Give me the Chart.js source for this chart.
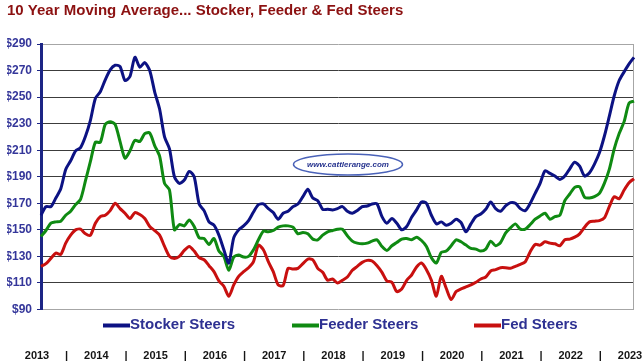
<!DOCTYPE html>
<html>
<head>
<meta charset="utf-8">
<script src="https://cdn.jsdelivr.net/npm/chart.js@4.4.0/dist/chart.umd.min.js"></script>
<style>
  html, body { margin: 0; padding: 0; background: #fff; }
  #chart { display: block; }
</style>
</head>
<body>
<canvas id="chart" width="643" height="364"></canvas>
<script>
// monthly points, Sep 2013 .. Sep 2023
const months = [];
for (let i = 0; i <= 120; i++) {
  const d = new Date(2013, 8 + i, 1);
  months.push(d.getFullYear() + "-" + String(d.getMonth() + 1).padStart(2, "0"));
}

const yearTicks = ["2013", "|", "2014", "|", "2015", "|", "2016", "|", "2017", "|", "2018",
  "|", "2019", "|", "2020", "|", "2021", "|", "2022", "|", "2023"];

const stocker = [161, 167.5, 167.5, 174, 181, 195.5, 202, 209.5, 212, 220.5,
  232.5, 249, 254, 263, 270.5, 274, 273, 262.5, 265.5, 280,
  272.5, 276, 270, 254, 241, 220, 211, 190, 185, 187.5,
  194, 190, 169.5, 164.5, 156, 153.5, 146, 135, 125, 144,
  150, 153, 157, 163.5, 169, 169.5, 166, 163, 158, 162.5,
  164, 167.5, 169.5, 175, 180.5, 174, 172, 165.5, 165.5, 165,
  166, 167.5, 164, 162.5, 164.5, 167.5, 168, 169.5, 169.5, 160,
  155, 158.5, 155, 150, 152.5, 159.5, 165, 171, 170, 161,
  154.5, 156, 153.5, 155, 158, 155.5, 148.5, 154.5, 160, 162,
  165.5, 171, 166, 164, 168, 170.5, 170, 166, 164.5, 170,
  177.5, 185, 194.5, 192.5, 190.5, 188, 190.5, 196, 201, 198,
  190.5, 193, 199.5, 208, 220.5, 235.5, 251, 262.5, 269, 275, 280];

const feeder = [145, 149.5, 155, 156, 156.5, 161, 164, 169, 173, 187,
  201.5, 216, 216, 229.5, 231.5, 229.5, 216.5, 204, 209.5, 217.5,
  216.5, 222.5, 223, 213.5, 205.5, 185, 180, 150, 154, 153,
  157.5, 152.5, 144, 143.5, 139, 143.5, 134, 130, 119.5, 129.5,
  131, 129.5, 130, 135, 142.5, 149, 148.5, 149.5, 152, 153,
  153, 152, 147, 148, 147, 143, 142.5, 146, 148.5, 149.5,
  150.5, 150.5, 145.5, 141.5, 140, 139.5, 140, 141.5, 142.5, 137.5,
  134.5, 138, 140.5, 143, 143.5, 142.5, 144.5, 142, 137.5, 129,
  125, 133, 134, 138, 142.5, 141, 138.5, 136, 135.5, 134,
  135.5, 141.5, 138, 140.5, 147.5, 151.5, 154.5, 150.5, 150.5, 154,
  158, 160.5, 162.5, 158, 160, 161, 172, 177, 182, 182.5,
  174.5, 174, 175, 177.5, 185, 195.5, 211, 222.5, 231.5, 245.5, 247];

const fed = [122.5, 124.5, 128.5, 132.5, 131.5, 140, 146, 150, 150.5, 147,
  146, 155, 160, 161, 164.5, 170, 166, 162.5, 158.5, 163,
  161.5, 158.5, 152.5, 149.5, 146, 137.5, 130, 128.5, 130, 134.5,
  137.5, 134, 129, 127.5, 123, 118.5, 111.5, 107.5, 100, 108.5,
  115, 118.5, 121.5, 126, 138.5, 135, 126, 118.5, 108.5, 108,
  121, 120.5, 121, 124.5, 128, 127.5, 121, 118, 112, 113,
  110, 112, 114.5, 119.5, 122.5, 125.5, 127, 126.5, 123, 118,
  111.5, 110.5, 103.5, 105.5, 112, 116, 122, 125, 120, 112,
  100, 115, 106, 97.5, 103.5, 105.5, 107, 108.5, 110.5, 113,
  114.5, 119, 120, 121.5, 121.5, 121, 122.5, 124, 126, 133.5,
  139, 138.5, 141, 140, 139.5, 138, 142.5, 143, 144.5, 147,
  152, 156, 156.5, 157, 159, 167.5, 175, 173.5, 180, 185.5, 188.5];

const FONT = "'Liberation Sans', Arial, sans-serif";
Chart.defaults.font.family = FONT;

// plot frame (right edge) + cattlerange watermark
const frame = {
  id: "frame",
  beforeDatasetsDraw(chart) {
    const { ctx, chartArea: a } = chart;
    ctx.save();
    ctx.strokeStyle = "#a6a6a6";
    ctx.lineWidth = 1;
    ctx.beginPath();
    ctx.moveTo(Math.round(a.right) - 0.5, a.top);
    ctx.lineTo(Math.round(a.right) - 0.5, a.bottom);
    ctx.stroke();

    // watermark
    ctx.beginPath();
    ctx.ellipse(348, 164.5, 54.5, 10.5, 0, 0, Math.PI * 2);
    ctx.fillStyle = "#fff";
    ctx.fill();
    ctx.strokeStyle = "#4a62b8";
    ctx.lineWidth = 1.5;
    ctx.stroke();
    ctx.fillStyle = "#27348f";
    ctx.font = "italic bold 8px " + FONT;
    ctx.textAlign = "center";
    ctx.textBaseline = "middle";
    ctx.fillText("www.cattlerange.com", 348, 165);
    ctx.restore();
  }
};

const legendRow = {
  id: "legendRow",
  afterDraw(chart, args, opts) {
    const { ctx } = chart;
    ctx.save();
    ctx.font = "bold 15px " + FONT;
    ctx.textBaseline = "middle";
    chart.data.datasets.forEach((ds, i) => {
      const x = opts.x[i];
      ctx.strokeStyle = ds.borderColor;
      ctx.lineWidth = 4;
      ctx.beginPath();
      ctx.moveTo(x, opts.y + 1);
      ctx.lineTo(x + opts.sample, opts.y + 1);
      ctx.stroke();
      ctx.fillStyle = opts.color;
      ctx.fillText(ds.label, x + opts.sample, opts.y);
    });
    ctx.restore();
  }
};

const line = (label, data, color) => ({
  label,
  data,
  borderColor: color,
  borderWidth: 3,
  pointRadius: 0,
  tension: 0.25,
  borderJoinStyle: "round",
  fill: false
});

new Chart(document.getElementById("chart"), {
  type: "line",
  data: {
    labels: months,
    datasets: [
      line("Stocker Steers", stocker, "#0c1283"),
      line("Feeder Steers", feeder, "#0f8a12"),
      line("Fed Steers", fed, "#c8100f")
    ]
  },
  options: {
    responsive: false,
    animation: false,
    layout: { padding: { left: 7, right: 9, top: 0, bottom: 0 } },
    plugins: {
      legend: { display: false },
      tooltip: { enabled: false },
      title: {
        display: true,
        text: "10 Year Moving Average... Stocker, Feeder & Fed Steers",
        align: "start",
        color: "#8c1111",
        font: { size: 15, weight: "bold" },
        padding: { top: 2, bottom: 24 }
      },
      legendRow: { x: [103, 292, 474], y: 324.5, sample: 27, color: "#2e3192" }
    },
    scales: {
      x: {
        type: "category",
        ticks: {
          autoSkip: false,
          maxRotation: 0,
          padding: 40,
          labelOffset: -4,
          color: "#151515",
          font: { size: 11, weight: "bold" },
          callback: (v, i) => (i % 6 === 0 ? yearTicks[i / 6] : "")
        },
        grid: { display: false, drawTicks: false },
        border: { display: false },
        afterFit: (s) => {
          s.height = 54.5;
          s.paddingLeft = 0;
          s.paddingRight = 0;
        }
      },
      y: {
        min: 90,
        max: 290,
        ticks: {
          stepSize: 20,
          padding: 5,
          color: "#34369a",
          font: { size: 12, weight: "bold" },
          callback: (v) => "$" + v
        },
        grid: {
          color: (c) => (c.tick.value === 290 || c.tick.value === 90 ? "#a6a6a6" : "#3c3c3c"),
          tickColor: "#1c2585",
          tickLength: 4,
          lineWidth: 1
        },
        border: { color: "#1c2585", width: 3 },
        afterFit: (s) => {
          s.width = 34;
        }
      }
    }
  },
  plugins: [frame, legendRow]
});
</script>
</body>
</html>
